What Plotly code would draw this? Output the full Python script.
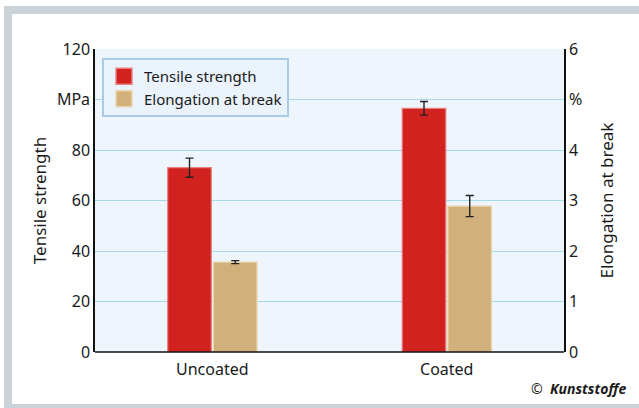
import plotly.graph_objects as go

categories = ["Uncoated", "Coated"]
tensile = [73.0, 96.5]
tensile_err = [3.8, 2.7]
elong = [1.78, 2.89]
elong_err = [0.03, 0.21]
left_ticks = [0, 20, 40, 60, 80, 100, 120]
left_ticktext = ["0", "20", "40", "60", "80", "MPa", "120"]
right_ticks = [0, 1, 2, 3, 4, 5, 6]
right_ticktext = ["0", "1", "2", "3", "4", "%", "6"]

W, H = 639, 408
L, R, T, B = 95, 75, 49, 56
pw, ph = W - L - R, H - T - B

def px(x):
    return (x - L) / pw

def py(y):
    return (H - B - y) / ph

FONT = "Noto Sans"
RED, RED_EDGE = "#d12220", "#e88080"
TAN, TAN_EDGE = "#d2b07c", "#ecd6b0"

fig = go.Figure()
fig.add_trace(go.Bar(
    x=categories, y=tensile, name="Tensile strength", showlegend=False,
    width=0.186, offset=-0.19,
    marker=dict(color=RED, line=dict(color=RED_EDGE, width=1.2)),
    error_y=dict(type="data", array=tensile_err, color="#222222", thickness=1.4, width=4),
    yaxis="y",
))
fig.add_trace(go.Bar(
    x=categories, y=elong, name="Elongation at break", showlegend=False,
    width=0.186, offset=0.005,
    marker=dict(color=TAN, line=dict(color=TAN_EDGE, width=1.2)),
    error_y=dict(type="data", array=elong_err, color="#222222", thickness=1.4, width=4),
    yaxis="y2",
))
# legend entries with larger square swatches
for name, c, e in [("Tensile strength", RED, RED_EDGE), ("Elongation at break", TAN, TAN_EDGE)]:
    fig.add_trace(go.Scatter(
        x=[None], y=[None], mode="markers", name=name,
        marker=dict(symbol="square", size=16, color=c, line=dict(color=e, width=1.5)),
    ))

fig.update_layout(
    width=W, height=H,
    margin=dict(l=L, r=R, t=T, b=B),
    paper_bgcolor="white",
    plot_bgcolor="#eef5fc",
    font=dict(family=FONT, size=15, color="#1a1a1a"),
    showlegend=True,
    legend=dict(
        x=px(102), y=py(58), xanchor="left", yanchor="top",
        bgcolor="#eaf3fb", bordercolor="#a8cbe8", borderwidth=2,
        font=dict(size=15), tracegroupgap=2, itemwidth=30,
    ),
    xaxis=dict(
        range=[-0.5, 1.5], showgrid=False, zeroline=False,
        showline=False, ticks="", tickfont=dict(size=16), ticklabelstandoff=6,
    ),
    yaxis=dict(
        range=[0, 120], tickvals=left_ticks, ticktext=left_ticktext,
        showgrid=True, gridcolor="#a6d8ec", gridwidth=1.2, zeroline=False,
        showline=True, linecolor="#111111", linewidth=1.5, ticks="",
        tickfont=dict(size=16),
        title=dict(text="Tensile strength", font=dict(size=17), standoff=6),
    ),
    yaxis2=dict(
        range=[0, 6], tickvals=right_ticks, ticktext=right_ticktext,
        overlaying="y", side="right", showgrid=False, zeroline=False,
        showline=True, linecolor="#111111", linewidth=1.5, ticks="",
        tickfont=dict(size=16),
        title=dict(text="Elongation at break", font=dict(size=17), standoff=20),
    ),
    shapes=[
        dict(type="rect", xref="paper", yref="paper",
             x0=px(8), x1=px(645), y0=py(10), y1=py(408),
             line=dict(color="#cbd3da", width=8), fillcolor="rgba(0,0,0,0)", layer="below"),
        dict(type="line", xref="paper", yref="paper",
             x0=0, x1=1, y0=0, y1=0, line=dict(color="#111111", width=1.5)),
    ],
    annotations=[
        dict(xref="paper", yref="paper", x=px(628), y=py(388), xanchor="right", yanchor="middle",
             text="©  <b><i>Kunststoffe</i></b>", showarrow=False,
             font=dict(size=14, color="#1a1a1a")),
    ],
)

fig.write_html("out.html", config={"displayModeBar": False},
               post_script="document.body.style.margin='0';document.body.style.overflow='hidden';")
